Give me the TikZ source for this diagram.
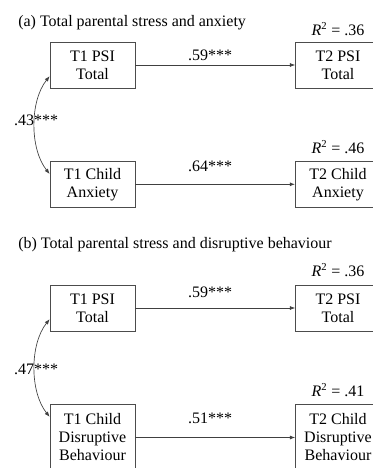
\documentclass[tikz,border=0pt]{standalone}
\usepackage{fontspec}
\setmainfont{Liberation Serif}
\usetikzlibrary{arrows.meta,calc}
\begin{document}
\begin{tikzpicture}[x=0.75pt,y=-0.75pt,
  box/.style={draw=black!70,line width=0.5pt,minimum width=63.75pt,minimum height=34.5pt,align=center,inner sep=0pt,font=\fontsize{12}{13.5}\selectfont},
  tallbox/.style={box,minimum height=49.5pt},
  lbl/.style={anchor=base,inner sep=0pt,font=\fontsize{12}{13.5}\selectfont},
  conn/.style={draw=black!75,line width=0.5pt,-{Latex[length=4pt,width=3pt]}},
  corr/.style={draw=black!75,line width=0.5pt,{Latex[length=4pt,width=3pt]}-{Latex[length=4pt,width=3pt]}}
]
\useasboundingbox (0,0) rectangle (373,468);
\clip (0,0) rectangle (373,468);

% ---- (a) ----
\node[lbl,anchor=base west] (titleA) at (18,26) {(a) Total parental stress and anxiety};
\node[box] (psiA1) at (92.5,65) {T1 PSI\\Total};
\node[box] (psiA2) at (338,65) {T2 PSI\\Total};
\node[box] (anxA1) at (92.5,184.3) {T1 Child\\Anxiety};
\node[box] (anxA2) at (338,184.3) {T2 Child\\Anxiety};
\node[lbl] (rA1) at (338,35) {\textit{R}\textsuperscript{2} = .36};
\node[lbl] (rA2) at (338,153) {\textit{R}\textsuperscript{2} = .46};
\draw[conn] (psiA1) -- (psiA2);
\draw[conn,line width=0.9pt] (anxA1) -- (anxA2);
\node[lbl] (cA1) at (210,60) {.59***};
\node[lbl] (cA2) at (210,171) {.64***};
\coordinate (sA) at ($(psiA1.north west)+(0,34.5)$);
\coordinate (eA) at ($(anxA1.north west)+(0,13)$);
\draw[corr] (sA) .. controls ($(sA)+(-20,25)$) and ($(eA)+(-20,-25)$) .. (eA);
\node[lbl] (rhoA) at (36,125) {.43***};

% ---- (b) ----
\node[lbl,anchor=base west] (titleB) at (18,248) {(b) Total parental stress and disruptive behaviour};
\node[box] (psiB1) at (92.5,308) {T1 PSI\\Total};
\node[box] (psiB2) at (338,308) {T2 PSI\\Total};
\node[tallbox] (disB1) at (92.5,437.5) {T1 Child\\Disruptive\\Behaviour};
\node[tallbox] (disB2) at (338,437.5) {T2 Child\\Disruptive\\Behaviour};
\node[lbl] (rB1) at (338,276) {\textit{R}\textsuperscript{2} = .36};
\node[lbl] (rB2) at (338,396) {\textit{R}\textsuperscript{2} = .41};
\draw[conn] (psiB1) -- (psiB2);
\draw[conn] (disB1) -- (disB2);
\node[lbl] (cB1) at (210,297) {.59***};
\node[lbl] (cB2) at (210,423) {.51***};
\coordinate (sB) at ($(psiB1.north west)+(0,34.5)$);
\coordinate (eB) at ($(disB1.north west)+(0,12.7)$);
\draw[corr] (sB) .. controls ($(sB)+(-20,25)$) and ($(eB)+(-20,-25)$) .. (eB);
\node[lbl] (rhoB) at (36,374) {.47***};
\end{tikzpicture}
\end{document}
